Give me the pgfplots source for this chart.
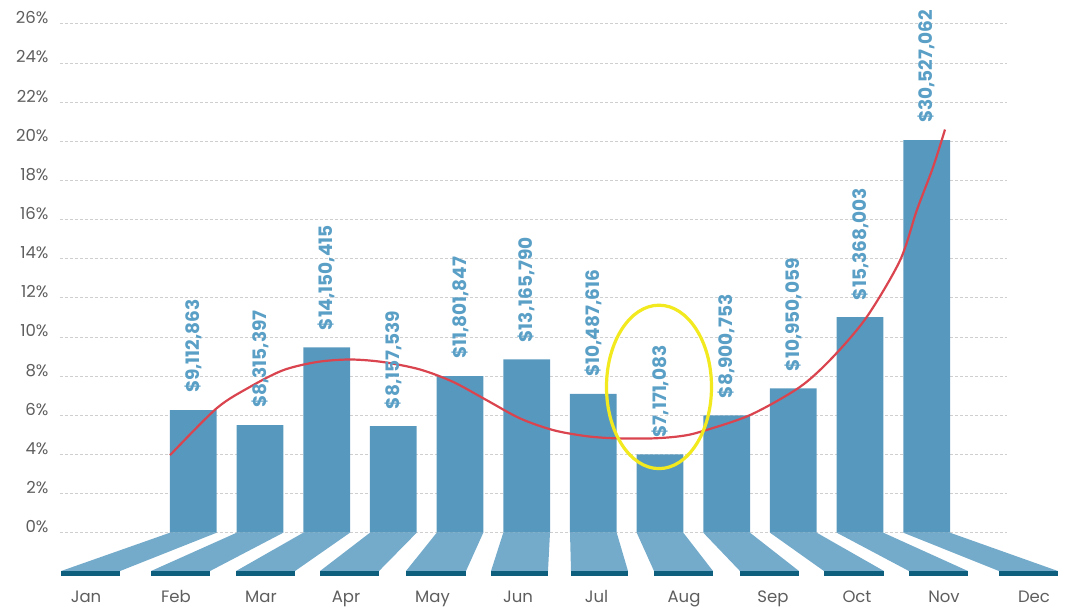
\documentclass[border=0pt]{standalone}
\usepackage{pgfplots}
\pgfplotsset{compat=1.18}
\usepackage{fontspec}
\setmainfont{Poppins}
\definecolor{barc}{HTML}{5799BE}
\definecolor{floorc}{HTML}{74AACA}
\definecolor{stripc}{HTML}{0E5F7E}
\definecolor{labc}{HTML}{5A9FC6}
\definecolor{redc}{HTML}{D9444F}
\definecolor{yelc}{HTML}{F2EA1E}
\definecolor{gridc}{HTML}{CFCFCF}
\definecolor{tickc}{HTML}{5E5E5E}
\begin{document}
\begin{tikzpicture}
\begin{axis}[
  x=1pt, y=19.57pt,
  xmin=60, xmax=1007, ymin=0, ymax=26,
  enlargelimits=false,
  clip=false,
  axis line style={draw=none},
  major tick length=0pt,
  xtick=\empty,
  ytick={0,2,...,26},
  yticklabel={\pgfmathprintnumber{\tick}\%},
  /pgf/number format/assume math mode=true,
  yticklabel style={font=\fontsize{16.5}{19}\selectfont, text=tickc, anchor=east, xshift=-8pt, yshift=6pt},
  ymajorgrids,
  grid style={gridc, dash pattern=on 3pt off 2pt, line width=0.8pt},
]
\path (axis cs:0,-3.90) rectangle (axis cs:1065,27.22);
% floor trapezoids
\addplot[fill=floorc, draw=none] coordinates {(170,0) (216.7,0) (120,-1.96) (61,-1.96)} -- cycle;
\addplot[fill=floorc, draw=none] coordinates {(236.7,0) (283.3,0) (210,-1.96) (151,-1.96)} -- cycle;
\addplot[fill=floorc, draw=none] coordinates {(303.3,0) (350,0) (295,-1.96) (236,-1.96)} -- cycle;
\addplot[fill=floorc, draw=none] coordinates {(370,0) (416.7,0) (379,-1.96) (320,-1.96)} -- cycle;
\addplot[fill=floorc, draw=none] coordinates {(436.7,0) (483.3,0) (466,-1.96) (406,-1.96)} -- cycle;
\addplot[fill=floorc, draw=none] coordinates {(503.3,0) (550,0) (548,-1.96) (491,-1.96)} -- cycle;
\addplot[fill=floorc, draw=none] coordinates {(570,0) (616.7,0) (628,-1.96) (571,-1.96)} -- cycle;
\addplot[fill=floorc, draw=none] coordinates {(636.7,0) (683.3,0) (713,-1.96) (654,-1.96)} -- cycle;
\addplot[fill=floorc, draw=none] coordinates {(703.3,0) (750,0) (799,-1.96) (740,-1.96)} -- cycle;
\addplot[fill=floorc, draw=none] coordinates {(770,0) (816.7,0) (884,-1.96) (824,-1.96)} -- cycle;
\addplot[fill=floorc, draw=none] coordinates {(836.7,0) (883.3,0) (968,-1.96) (909,-1.96)} -- cycle;
\addplot[fill=floorc, draw=none] coordinates {(903.3,0) (950,0) (1058,-1.96) (999,-1.96)} -- cycle;
% strips
\addplot[fill=stripc, draw=none] coordinates {(61,-1.96) (120,-1.96) (120,-2.2) (61,-2.2)} -- cycle;
\addplot[fill=stripc, draw=none] coordinates {(151,-1.96) (210,-1.96) (210,-2.2) (151,-2.2)} -- cycle;
\addplot[fill=stripc, draw=none] coordinates {(236,-1.96) (295,-1.96) (295,-2.2) (236,-2.2)} -- cycle;
\addplot[fill=stripc, draw=none] coordinates {(320,-1.96) (379,-1.96) (379,-2.2) (320,-2.2)} -- cycle;
\addplot[fill=stripc, draw=none] coordinates {(406,-1.96) (466,-1.96) (466,-2.2) (406,-2.2)} -- cycle;
\addplot[fill=stripc, draw=none] coordinates {(491,-1.96) (548,-1.96) (548,-2.2) (491,-2.2)} -- cycle;
\addplot[fill=stripc, draw=none] coordinates {(571,-1.96) (628,-1.96) (628,-2.2) (571,-2.2)} -- cycle;
\addplot[fill=stripc, draw=none] coordinates {(654,-1.96) (713,-1.96) (713,-2.2) (654,-2.2)} -- cycle;
\addplot[fill=stripc, draw=none] coordinates {(740,-1.96) (799,-1.96) (799,-2.2) (740,-2.2)} -- cycle;
\addplot[fill=stripc, draw=none] coordinates {(824,-1.96) (884,-1.96) (884,-2.2) (824,-2.2)} -- cycle;
\addplot[fill=stripc, draw=none] coordinates {(909,-1.96) (968,-1.96) (968,-2.2) (909,-2.2)} -- cycle;
\addplot[fill=stripc, draw=none] coordinates {(999,-1.96) (1058,-1.96) (1058,-2.2) (999,-2.2)} -- cycle;
% bars
\addplot[ybar, bar width=46.7, bar shift=0pt, fill=barc, draw=none,
  nodes near coords, point meta=explicit symbolic,
  every node near coord/.append style={yshift=17pt, rotate=90, anchor=west, text=labc,
    font=\fontsize{18.5}{20}\selectfont\bfseries, inner sep=0pt}]
coordinates {
(193.3,6.26) [\$9,112,863]
(260.0,5.50) [\$8,315,397]
(326.7,9.47) [\$14,150,415]
(393.3,5.44) [\$8,157,539]
(460.0,8.00) [\$11,801,847]
(526.7,8.85) [\$13,165,790]
(593.3,7.09) [\$10,487,616]
(660.0,4.00) [\$7,171,083]
(726.7,6.00) [\$8,900,753]
(793.3,7.38) [\$10,950,059]
(860.0,11.01) [\$15,368,003]
(926.7,20.06) [\$30,527,062]
};
% trend curve
\addplot[redc, line width=2.2pt, smooth] coordinates {
(170,3.96) (216.7,6.36) (250,7.45) (283,8.30) (316.7,8.72) (350,8.85)
(383,8.72) (420,8.34) (453.3,7.70) (486.7,6.77) (520,5.84) (553.3,5.24)
(586.7,4.93) (616.7,4.82) (653.3,4.82) (680,4.93) (700,5.15) (750,6.01)
(800,7.45) (833,8.98) (866.7,11.02) (900,13.91) (916.7,16.46) (933,18.67) (945,20.60)
};
% highlight
\draw[yelc, line width=3.2pt] (axis cs:659,7.45) ellipse [x radius=52.5pt, y radius=81.7pt];
% month labels
\begin{scope}[every node/.style={anchor=base, text=tickc, font=\fontsize{16.5}{19}\selectfont, inner sep=0pt}]
\node at (axis cs:86,-3.57) {Jan};
\node at (axis cs:176,-3.57) {Feb};
\node at (axis cs:261,-3.57) {Mar};
\node at (axis cs:346,-3.57) {Apr};
\node at (axis cs:432.5,-3.57) {May};
\node at (axis cs:518,-3.57) {Jun};
\node at (axis cs:596.5,-3.57) {Jul};
\node at (axis cs:684,-3.57) {Aug};
\node at (axis cs:773,-3.57) {Sep};
\node at (axis cs:857,-3.57) {Oct};
\node at (axis cs:944,-3.57) {Nov};
\node at (axis cs:1034,-3.57) {Dec};
\end{scope}
\end{axis}
\end{tikzpicture}
\end{document}
